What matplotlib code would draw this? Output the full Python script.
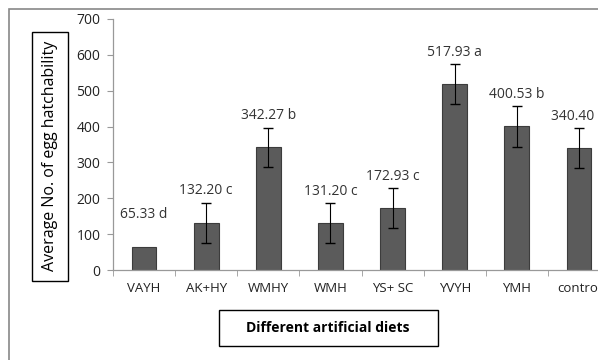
import matplotlib
matplotlib.use("Agg")
import matplotlib.pyplot as plt
from matplotlib.patches import Rectangle

# data
diets = ["VAYH", "AK+HY", "WMHY", "WMH", "YS+ SC", "YVYH", "YMH", "control"]
means = [65.33, 132.20, 342.27, 131.20, 172.93, 517.93, 400.53, 340.40]
errors = [0, 56, 55, 55, 55, 56, 57, 57]
letters = ["d", "c", "b", "c", "c", "a", "b", "b"]
label_gap = 56  # labels sit above the error bar top
yticks = [0, 100, 200, 300, 400, 500, 600, 700]

plt.rcParams['font.family'] = ['Open Sans', 'DejaVu Sans']

fig = plt.figure(figsize=(5.98, 3.6), dpi=100)
W, H = 598, 360

# outer chart frame (cropped at right and bottom)
fig.patches.append(Rectangle((9 / W, -0.1), 1.2, 1 - 9 / H + 0.1,
                             transform=fig.transFigure, fill=False,
                             edgecolor='#888888', linewidth=1.2))

ax = fig.add_axes([113 / W, 90 / H, 497 / W, 251 / H])
x = list(range(len(diets)))
ax.bar(x, means, width=0.4, color='#5b5b5b', edgecolor='#3c3c3c', linewidth=0.8, zorder=2)
ex = [i for i in x if errors[i] > 0]
ax.errorbar(ex, [means[i] for i in ex], yerr=[errors[i] for i in ex], fmt='none',
            ecolor='black', elinewidth=0.8, capsize=3.5, capthick=1.0, zorder=3)

for i, (m, l) in enumerate(zip(means, letters)):
    ax.text(i, m + label_gap + 12, f"{m:.2f} {l}", ha='center', va='bottom',
            fontsize=10, color='#333333')

ax.set_xlim(-0.5, len(diets) - 0.5)
ax.set_ylim(0, 700)
ax.set_yticks(yticks)
ax.set_yticklabels([str(t) for t in yticks], fontsize=10, color='#222222')
ax.set_xticks(x)
ax.set_xticklabels(diets, fontsize=9.5, color='#222222')
ax.set_xticks([i + 0.5 for i in range(-1, len(diets))], minor=True)
ax.tick_params(axis='x', which='major', length=0, pad=9)
ax.tick_params(axis='x', which='minor', length=4, color='#999999', direction='out')
ax.tick_params(axis='y', length=4, color='#999999', direction='out', pad=5)
for s in ['top', 'right']:
    ax.spines[s].set_visible(False)
for s in ['left', 'bottom']:
    ax.spines[s].set_color('#999999')
    ax.spines[s].set_linewidth(0.9)

# boxed axis titles
fig.patches.append(Rectangle((32 / W, 1 - 281 / H), 36 / W, 249 / H,
                             transform=fig.transFigure, fill=False,
                             edgecolor='black', linewidth=1.0))
fig.text(50 / W, 1 - 156 / H, "Average No. of egg hatchability", rotation=90,
         ha='center', va='center', fontsize=11.5)
fig.patches.append(Rectangle((219 / W, 1 - 346 / H), 219 / W, 36 / H,
                             transform=fig.transFigure, fill=False,
                             edgecolor='black', linewidth=1.0))
fig.text(328 / W, 1 - 328 / H, "Different artificial diets", ha='center', va='center',
         fontsize=10, fontweight='bold')

fig.savefig("out.png", dpi=100)
